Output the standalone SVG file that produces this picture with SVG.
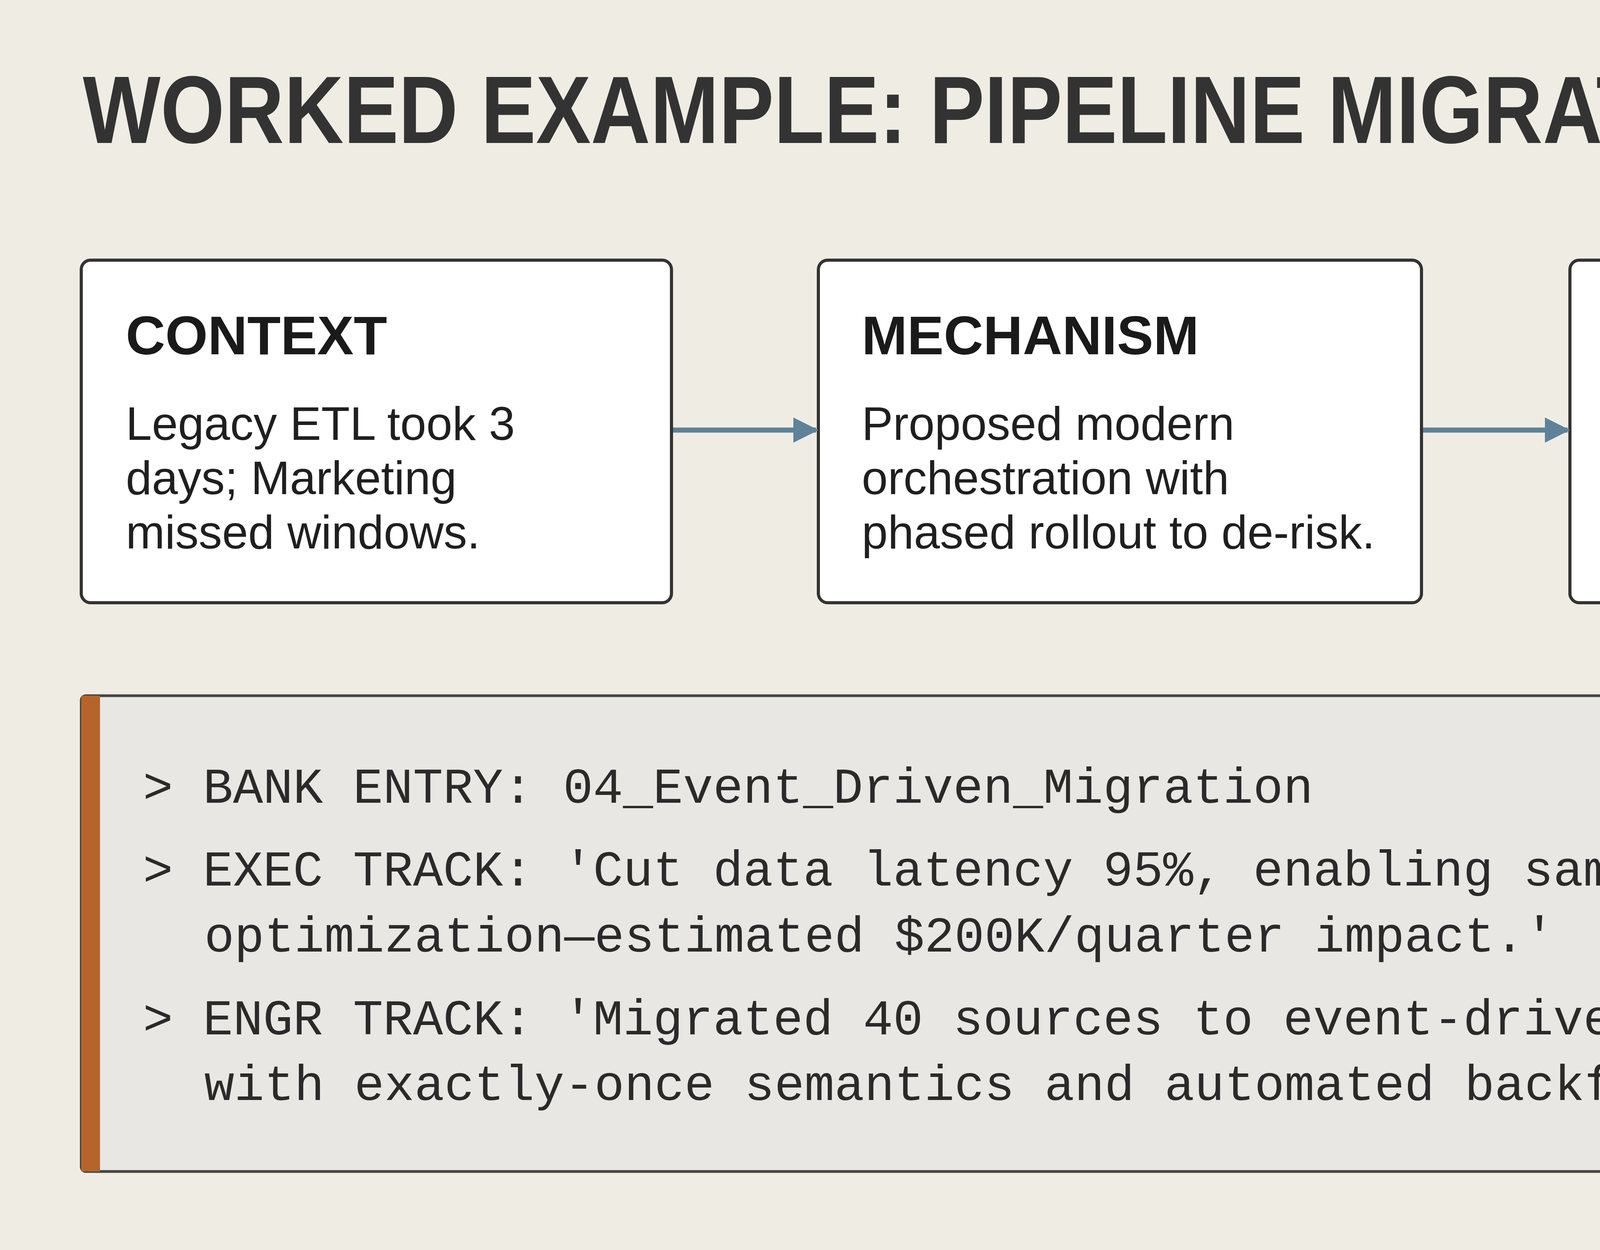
<svg xmlns="http://www.w3.org/2000/svg" width="5734" height="3200" viewBox="0 0 5734 3200">
<defs>
<style>
.box{fill:#ffffff;stroke:#333333;stroke-width:8}
.h{font-family:"Liberation Sans",Arial,sans-serif;font-weight:bold;font-size:140px;fill:#1a1a1a}
.b{font-family:"Liberation Sans",Arial,sans-serif;font-size:120px;fill:#1f1f1f}
.m{font-family:"Liberation Mono","DejaVu Sans Mono",monospace;font-size:128px;fill:#2a2a2a}
.conn{stroke:#5f8299;stroke-width:13;fill:none}
</style>
<marker id="ah" viewBox="0 0 10 10" refX="9" refY="5" markerWidth="5" markerHeight="5" markerUnits="strokeWidth" orient="auto">
<path d="M0,0 L10,5 L0,10 z" fill="#5f8299"/>
</marker>
</defs>
<rect width="5734" height="3200" fill="#efede3"/>
<text x="212" y="366" font-family="'Liberation Sans',Arial,sans-serif" font-weight="bold" font-size="245" fill="#333333" textLength="4378" lengthAdjust="spacingAndGlyphs">WORKED EXAMPLE: PIPELINE MIGRATION</text>
<g id="context">
<rect class="box" x="208" y="666" width="1511" height="877" rx="24"/>
<text class="h" x="322" y="907">CONTEXT</text>
<text class="b" x="322" y="1126">Legacy ETL took 3</text>
<text class="b" x="322" y="1265">days; Marketing</text>
<text class="b" x="322" y="1404">missed windows.</text>
</g>
<g id="mechanism">
<rect class="box" x="2095" y="666" width="1544" height="877" rx="24"/>
<text class="h" x="2206" y="907">MECHANISM</text>
<text class="b" x="2206" y="1126">Proposed modern</text>
<text class="b" x="2206" y="1265">orchestration with</text>
<text class="b" x="2206" y="1404">phased rollout to de-risk.</text>
</g>
<g id="outcome">
<rect class="box" x="4019" y="666" width="1507" height="877" rx="24"/>
<text class="h" x="4130" y="907">OUTCOME</text>
<text class="b" x="4130" y="1126">Latency cut by 95%;</text>
<text class="b" x="4130" y="1265">incidents down 60%.</text>
</g>
<g id="connectors">
<line class="conn" x1="1723" y1="1101" x2="2089" y2="1101" marker-end="url(#ah)"/>
<line class="conn" x1="3643" y1="1101" x2="4013" y2="1101" marker-end="url(#ah)"/>
</g>
<g id="bank">
<rect x="208" y="1781" width="5318" height="1218" rx="12" fill="#e8e7e4" stroke="#444444" stroke-width="7"/>
<rect x="208" y="1781" width="48" height="1218" fill="#b5652a"/>
<text class="m" x="366" y="2055">&gt; BANK ENTRY: 04_Event_Driven_Migration</text>
<text class="m" x="366" y="2267">&gt; EXEC TRACK: 'Cut data latency 95%, enabling same-day campaign</text>
<text class="m" x="523" y="2436">optimization—estimated $200K/quarter impact.'</text>
<text class="m" x="366" y="2648">&gt; ENGR TRACK: 'Migrated 40 sources to event-driven orchestration</text>
<text class="m" x="523" y="2816">with exactly-once semantics and automated backfills.'</text>
</g>
<g id="watermark">
<rect x="5280" y="3098" width="425" height="94" rx="16" fill="#f3f2ea"/>
<path d="M5295,3160 C5300,3140 5340,3140 5360,3150 M5290,3170 C5300,3175 5330,3160 5361,3116 L5342,3168 M5340,3150 L5376,3148" stroke="#2bb5a8" stroke-width="3" fill="none"/>
<text x="5390" y="3163" font-family="'DejaVu Sans',sans-serif" font-size="40" fill="#222222">aamirhassain.com</text>
</g>
</svg>
